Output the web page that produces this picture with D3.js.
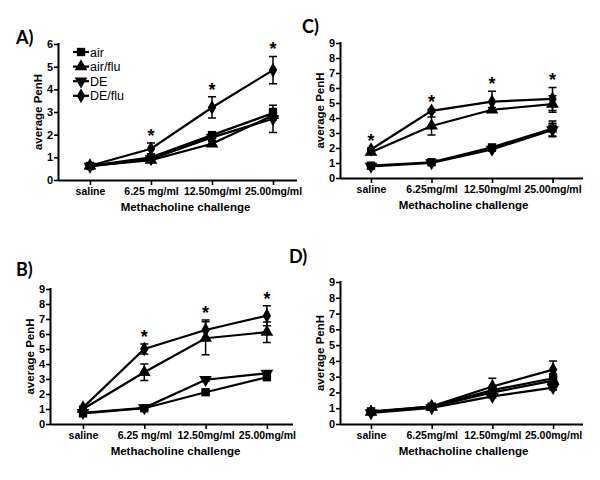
<!DOCTYPE html>
<html><head><meta charset="utf-8">
<script src="https://cdn.jsdelivr.net/npm/d3@7"></script>
<style>body{margin:0;background:#fff}svg{display:block}</style>
</head><body>
<svg id="c" width="600" height="480"></svg>
<script>
// ---- data ----
const seriesNames = ["air", "air/flu", "DE", "DE/flu"];
const catsAB = ["saline", "6.25 mg/ml", "12.50mg/ml", "25.00mg/ml"];
const catsCD = ["saline", "6.25mg/ml", "12.50mg/ml", "25.00mg/ml"];
const yTicksA = [0, 1, 2, 3, 4, 5, 6];
const yTicks9 = [0, 1, 2, 3, 4, 5, 6, 7, 8, 9];

// Panel A
const A_air = [0.62, 1.0, 1.98, 2.95];
const A_airflu = [0.62, 0.88, 1.6, 2.85];
const A_DE = [0.6, 0.93, 1.88, 2.7];
const A_DEflu = [0.63, 1.38, 3.2, 4.85];
const A_err_air = [0.05, 0.1, 0.15, 0.2];
const A_err_airflu = [0.05, 0.1, 0.1, 0.2];
const A_err_DE = [0.05, 0.1, 0.15, 0.6];
const A_err_DEflu = [0.05, 0.25, 0.47, 0.6];
const A_star = [false, true, true, true];

// Panel C
const C_air = [0.82, 1.05, 2.04, 3.3];
const C_airflu = [1.72, 3.47, 4.55, 4.93];
const C_DE = [0.78, 1.0, 1.9, 3.2];
const C_DEflu = [1.9, 4.48, 5.09, 5.27];
const C_err_air = [0.05, 0.1, 0.1, 0.5];
const C_err_airflu = [0.1, 0.6, 0.15, 0.55];
const C_err_DE = [0.05, 0.1, 0.1, 0.45];
const C_err_DEflu = [0.1, 0.1, 0.7, 0.77];
const C_star = [true, true, true, true];

// Panel B
const B_air = [0.71, 1.05, 2.12, 3.12];
const B_airflu = [1.0, 3.45, 5.72, 6.12];
const B_DE = [0.75, 1.08, 2.95, 3.38];
const B_DEflu = [1.09, 5.0, 6.27, 7.22];
const B_err_air = [0.05, 0.1, 0.1, 0.1];
const B_err_airflu = [0.1, 0.55, 1.1, 0.68];
const B_err_DE = [0.05, 0.1, 0.1, 0.15];
const B_err_DEflu = [0.1, 0.33, 0.66, 0.67];
const B_star = [false, true, true, true];

// Panel D
const D_air = [0.8, 1.1, 2.15, 2.9];
const D_airflu = [0.75, 1.08, 2.0, 2.75];
const D_DE = [0.7, 1.02, 1.75, 2.3];
const D_DEflu = [0.75, 1.12, 2.38, 3.45];
const D_err_air = [0.1, 0.1, 0.2, 0.3];
const D_err_airflu = [0.1, 0.1, 0.15, 0.2];
const D_err_DE = [0.05, 0.1, 0.1, 0.15];
const D_err_DEflu = [0.1, 0.1, 0.52, 0.55];
const D_star = [false, false, false, false];

// ---- drawing ----
const svg = d3.select("#c");
const FONT = "'Liberation Sans', Arial, sans-serif";
const symbols = [
  {type: d3.symbolSquare, size: 70, rot: 0},
  {type: d3.symbolTriangle, size: 70, rot: 0},
  {type: d3.symbolTriangle, size: 70, rot: 180},
  {type: d3.symbolDiamond, size: 62, rot: 0}
];

function panel(cfg) {
  const g = svg.append("g");
  const y = d3.scaleLinear().domain([0, cfg.ymax]).range([cfg.yBottom, cfg.yTop]);
  const x = d3.scaleLinear().domain([0, 3]).range([cfg.cat0, cfg.cat0 + 3 * cfg.step]);

  // y axis
  const ya = g.append("g").attr("transform", `translate(${cfg.left},0)`)
    .call(d3.axisLeft(y).tickValues(cfg.yTicks).tickSize(4).tickSizeOuter(0).tickFormat(d3.format("d")));
  ya.select(".domain").attr("stroke-width", 2).attr("d", `M0.5,${cfg.yBottom + 1}V${cfg.yTop - 1}`);
  ya.selectAll(".tick line").attr("stroke-width", 1.6);
  ya.selectAll("text").attr("font-family", FONT).attr("font-weight", "bold").attr("font-size", 11).attr("x", -5);

  // x axis
  const xa = g.append("g").attr("transform", `translate(0,${cfg.yBottom})`)
    .call(d3.axisBottom(x).tickValues([0, 1, 2, 3]).tickSize(5).tickSizeOuter(0).tickFormat(i => cfg.cats[i]));
  xa.select(".domain").attr("stroke-width", 2).attr("d", `M${cfg.left},0.5H${cfg.right}`);
  xa.selectAll(".tick line").attr("stroke-width", 1.6);
  xa.selectAll("text").attr("font-family", FONT).attr("font-weight", "bold").attr("font-size", 10.5).attr("y", 8);

  // titles
  g.append("text").attr("x", (cfg.left + cfg.right) / 2 + cfg.xtOff).attr("y", cfg.yBottom + 31)
    .attr("text-anchor", "middle").attr("font-family", FONT).attr("font-weight", "bold").attr("font-size", 11.5)
    .text("Methacholine challenge");
  g.append("text").attr("transform", `translate(${cfg.left - 16},${(cfg.yTop + cfg.yBottom) / 2}) rotate(-90)`)
    .attr("text-anchor", "middle").attr("font-family", FONT).attr("font-weight", "bold").attr("font-size", 11.5)
    .text("average PenH");
  g.append("text").attr("x", cfg.lx).attr("y", cfg.ly).attr("font-family", "Lato, 'Open Sans', sans-serif")
    .attr("font-weight", "bold").attr("font-size", 18).text(cfg.letter);

  const line = d3.line().x((d, i) => x(i)).y(d => y(d));
  cfg.series.forEach((s, k) => {
    // error bars
    s.vals.forEach((v, i) => {
      const e = s.err[i];
      if (e <= 0) return;
      const cx = x(i);
      g.append("path").attr("d", `M${cx},${y(v - e)}V${y(v + e)}M${cx - 4},${y(v + e)}H${cx + 4}M${cx - 4},${y(v - e)}H${cx + 4}`)
        .attr("stroke", "#000").attr("stroke-width", 1.5).attr("fill", "none");
    });
    g.append("path").datum(s.vals).attr("d", line).attr("fill", "none").attr("stroke", "#000").attr("stroke-width", 2.2);
    g.selectAll(null).data(s.vals).enter().append("path")
      .attr("d", d3.symbol().type(symbols[k].type).size(symbols[k].size))
      .attr("transform", (d, i) => `translate(${x(i)},${y(d)}) rotate(${symbols[k].rot})`)
      .attr("fill", "#000");
  });

  // asterisks
  cfg.star.forEach((st, i) => {
    if (!st) return;
    const top = d3.max(cfg.series, s => s.vals[i] + s.err[i]);
    g.append("text").attr("x", x(i)).attr("y", y(top) - 1).attr("text-anchor", "middle")
      .attr("font-family", FONT).attr("font-weight", "bold").attr("font-size", 18).text("*");
  });
  return {g, x, y};
}

function mk(vals, errs) { return seriesNames.map((n, k) => ({name: n, vals: vals[k], err: errs[k]})); }

panel({letter: "A)", lx: 16, ly: 44, left: 58, right: 297, yTop: 44, yBottom: 180, cat0: 90, step: 61,
  ymax: 6, yTicks: yTicksA, cats: catsAB, xtOff: 8, star: A_star,
  series: mk([A_air, A_airflu, A_DE, A_DEflu], [A_err_air, A_err_airflu, A_err_DE, A_err_DEflu])});
panel({letter: "C)", lx: 302, ly: 33, left: 340, right: 583, yTop: 43, yBottom: 178, cat0: 371, step: 60.5,
  ymax: 9, yTicks: yTicks9, cats: catsCD, xtOff: 2, star: C_star,
  series: mk([C_air, C_airflu, C_DE, C_DEflu], [C_err_air, C_err_airflu, C_err_DE, C_err_DEflu])});
panel({letter: "B)", lx: 16, ly: 276, left: 50, right: 293, yTop: 289, yBottom: 424, cat0: 83, step: 61.3,
  ymax: 9, yTicks: yTicks9, cats: catsAB, xtOff: 4, star: B_star,
  series: mk([B_air, B_airflu, B_DE, B_DEflu], [B_err_air, B_err_airflu, B_err_DE, B_err_DEflu])});
panel({letter: "D)", lx: 289, ly: 263, left: 340, right: 583, yTop: 282, yBottom: 424, cat0: 371, step: 60.7,
  ymax: 9, yTicks: yTicks9, cats: catsCD, xtOff: 2, star: D_star,
  series: mk([D_air, D_airflu, D_DE, D_DEflu], [D_err_air, D_err_airflu, D_err_DE, D_err_DEflu])});

// legend (panel A)
const lg = svg.append("g");
seriesNames.forEach((n, k) => {
  const ly = 52 + k * 14.6;
  lg.append("line").attr("x1", 73).attr("x2", 89).attr("y1", ly).attr("y2", ly).attr("stroke", "#000").attr("stroke-width", 2.2);
  lg.append("path").attr("d", d3.symbol().type(symbols[k].type).size(symbols[k].size))
    .attr("transform", `translate(81,${ly}) rotate(${symbols[k].rot})`).attr("fill", "#000");
  lg.append("text").attr("x", 90).attr("y", ly + 4.5).attr("font-family", FONT).attr("font-size", 12.5).text(n);
});
</script>
</body></html>
